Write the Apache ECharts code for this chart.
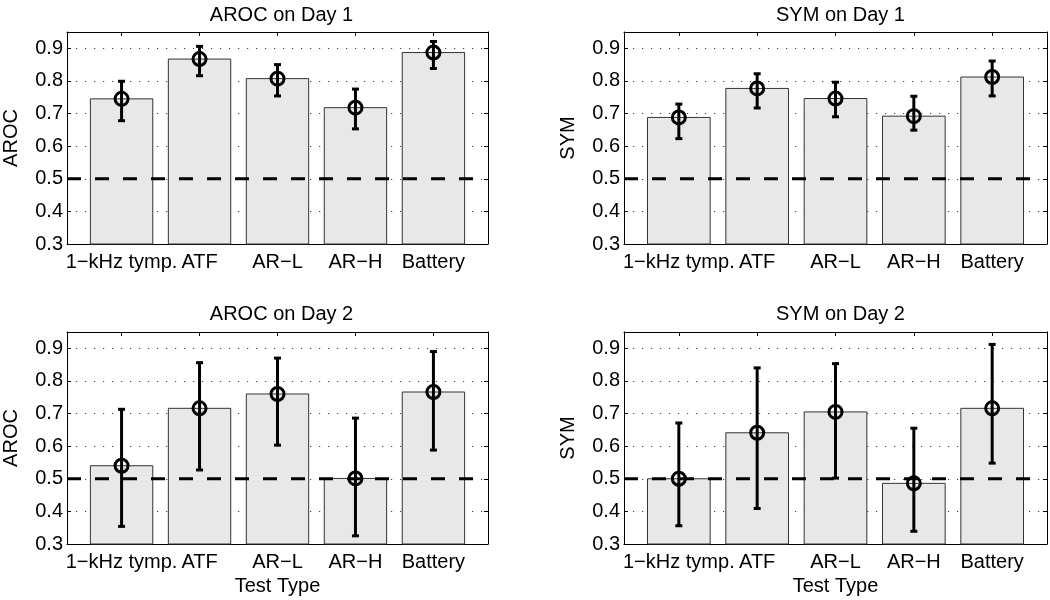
<!DOCTYPE html>
<html>
<head>
<meta charset="utf-8">
<script src="https://cdn.jsdelivr.net/npm/echarts@6/dist/echarts.min.js"></script>
<style>html,body{margin:0;padding:0;background:#fff;}#main{width:1050px;height:600px;}</style>
</head>
<body>
<div id="main"></div>
<script>
// ---- data ----
const categories = ['1\u2212kHz tymp.', 'ATF', 'AR\u2212L', 'AR\u2212H', 'Battery'];
const xPositions = [1, 2, 3, 4, 5];
const yTicks = [0.3, 0.4, 0.5, 0.6, 0.7, 0.8, 0.9];
const chanceLevel = 0.5;
const refLineX = [0.3, 5.52];

const arocDay1 = [0.745, 0.867, 0.807, 0.718, 0.887];
const arocDay1Low = [0.678, 0.816, 0.754, 0.653, 0.838];
const arocDay1High = [0.799, 0.906, 0.850, 0.775, 0.921];

const symDay1 = [0.688, 0.777, 0.746, 0.692, 0.812];
const symDay1Low = [0.623, 0.717, 0.690, 0.649, 0.754];
const symDay1High = [0.729, 0.822, 0.796, 0.753, 0.861];

const arocDay2 = [0.540, 0.716, 0.760, 0.501, 0.766];
const arocDay2Low = [0.354, 0.527, 0.603, 0.325, 0.588];
const arocDay2High = [0.713, 0.856, 0.870, 0.686, 0.890];

const symDay2 = [0.500, 0.641, 0.705, 0.486, 0.716];
const symDay2Low = [0.356, 0.409, 0.502, 0.339, 0.548];
const symDay2High = [0.671, 0.840, 0.853, 0.655, 0.912];

const panelTitles = ['AROC on Day 1', 'SYM on Day 1', 'AROC on Day 2', 'SYM on Day 2'];
const panelYNames = ['AROC', 'SYM', 'AROC', 'SYM'];
const xAxisName = 'Test Type';

// ---- layout / style ----
const X_MIN = 0.3, X_MAX = 5.7, Y_MIN = 0.3, Y_MAX = 0.95;
const HALF_BAR = 0.4;
const FONT = "'Liberation Sans', Arial, Helvetica, sans-serif";
const FS = 20;
const grids = [
  {left: 65, top: 32, width: 423, height: 212},
  {left: 624, top: 32, width: 423, height: 212},
  {left: 65, top: 332, width: 423, height: 212},
  {left: 624, top: 332, width: 423, height: 212}
];
const titleTops = [0, 299];

const panels = [
  {mean: arocDay1, low: arocDay1Low, high: arocDay1High},
  {mean: symDay1, low: symDay1Low, high: symDay1High},
  {mean: arocDay2, low: arocDay2Low, high: arocDay2High},
  {mean: symDay2, low: symDay2Low, high: symDay2High}
];

const option = {
  animation: false,
  backgroundColor: '#fff',
  textStyle: {fontFamily: FONT, color: '#000'},
  title: [], grid: [], xAxis: [], yAxis: [], series: []
};

const axisLineStyle = {show: true, lineStyle: {color: '#000', width: 1}};

panels.forEach((p, gi) => {
  const g = grids[gi];
  option.grid.push({left: g.left, top: g.top, width: g.width, height: g.height, containLabel: false});
  option.title.push({
    text: panelTitles[gi],
    left: g.left + g.width / 2,
    top: titleTops[gi < 2 ? 0 : 1],
    textAlign: 'center',
    textStyle: {fontSize: FS, fontWeight: 'normal', fontFamily: FONT, color: '#000'}
  });
  const bottomPanel = gi >= 2;
  // bottom x axis
  option.xAxis.push({
    type: 'value', gridIndex: gi, min: X_MIN, max: X_MAX, position: 'bottom',
    name: bottomPanel ? xAxisName : '', nameLocation: 'middle', nameGap: 32,
    nameTextStyle: {fontSize: FS, fontFamily: FONT, color: '#000'},
    axisLine: axisLineStyle,
    axisTick: {show: true, inside: true, length: 4, customValues: xPositions, lineStyle: {color: '#000'}},
    axisLabel: {show: true, customValues: xPositions, margin: 8, fontSize: FS, fontFamily: FONT, color: '#000',
      formatter: v => categories[Math.round(v) - 1]},
    splitLine: {show: false}
  });
  // top x axis (frame + ticks)
  option.xAxis.push({
    type: 'value', gridIndex: gi, min: X_MIN, max: X_MAX, position: 'top',
    axisLine: axisLineStyle,
    axisTick: {show: true, inside: true, length: 4, customValues: xPositions, lineStyle: {color: '#000'}},
    axisLabel: {show: false},
    splitLine: {show: false}
  });
  // left y axis
  option.yAxis.push({
    type: 'value', gridIndex: gi, min: Y_MIN, max: Y_MAX, position: 'left',
    name: panelYNames[gi], nameLocation: 'middle', nameGap: 46, nameRotate: 90,
    nameTextStyle: {fontSize: FS, fontFamily: FONT, color: '#000'},
    axisLine: axisLineStyle,
    axisTick: {show: true, inside: true, length: 4, customValues: yTicks, lineStyle: {color: '#000'}},
    axisLabel: {show: true, customValues: yTicks, margin: 4, fontSize: FS, fontFamily: FONT, color: '#000',
      formatter: v => v.toFixed(1)},
    splitLine: {show: true, lineStyle: {color: '#444', width: 1, type: [1.2, 7.8]}}
  });
  // right y axis (frame + ticks)
  option.yAxis.push({
    type: 'value', gridIndex: gi, min: Y_MIN, max: Y_MAX, position: 'right',
    axisLine: axisLineStyle,
    axisTick: {show: true, inside: true, length: 4, customValues: yTicks, lineStyle: {color: '#000'}},
    axisLabel: {show: false},
    splitLine: {show: false}
  });

  const xi = gi * 2, yi = gi * 2;
  // bars
  option.series.push({
    type: 'custom', xAxisIndex: xi, yAxisIndex: yi, z: 2,
    data: xPositions.map((x, i) => [x, p.mean[i]]),
    renderItem: (params, api) => {
      const x = api.value(0), v = api.value(1);
      const a = api.coord([x - HALF_BAR, v]);
      const b = api.coord([x + HALF_BAR, Y_MIN]);
      return {type: 'rect', shape: {x: a[0], y: a[1], width: b[0] - a[0], height: b[1] - a[1]},
        style: {fill: '#e8e8e8', stroke: '#333', lineWidth: 1}};
    }
  });
  // chance line
  option.series.push({
    type: 'line', xAxisIndex: xi, yAxisIndex: yi, z: 3, symbol: 'none', silent: true,
    data: refLineX.map(x => [x, chanceLevel]),
    lineStyle: {color: '#000', width: 3, type: [14, 14]}
  });
  // error bars + circles
  option.series.push({
    type: 'custom', xAxisIndex: xi, yAxisIndex: yi, z: 4,
    data: xPositions.map((x, i) => [x, p.mean[i], p.low[i], p.high[i]]),
    renderItem: (params, api) => {
      const x = api.value(0);
      const c = api.coord([x, api.value(1)]);
      const lo = api.coord([x, api.value(2)]);
      const hi = api.coord([x, api.value(3)]);
      const cap = 3.5;
      const st = {stroke: '#000', lineWidth: 3, fill: null};
      return {type: 'group', children: [
        {type: 'line', shape: {x1: lo[0], y1: lo[1], x2: hi[0], y2: hi[1]}, style: st},
        {type: 'line', shape: {x1: lo[0] - cap, y1: lo[1], x2: lo[0] + cap, y2: lo[1]}, style: st},
        {type: 'line', shape: {x1: hi[0] - cap, y1: hi[1], x2: hi[0] + cap, y2: hi[1]}, style: st},
        {type: 'circle', shape: {cx: c[0], cy: c[1], r: 6.5}, style: {stroke: '#000', lineWidth: 3, fill: 'rgba(0,0,0,0)'}}
      ]};
    }
  });
});

const chart = echarts.init(document.getElementById('main'), null, {renderer: 'canvas'});
chart.setOption(option);
</script>
</body>
</html>
